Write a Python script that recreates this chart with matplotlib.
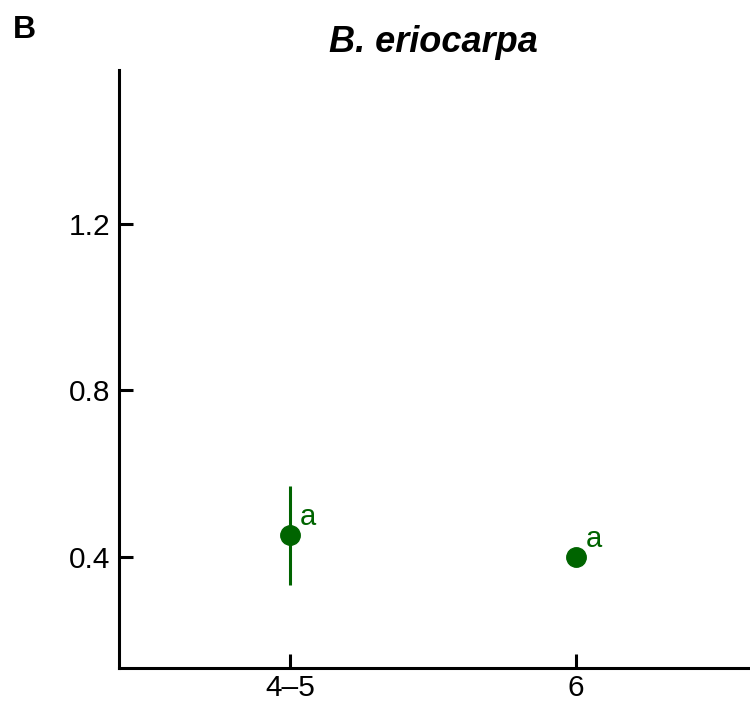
import matplotlib
matplotlib.use("Agg")
import matplotlib.pyplot as plt

plt.rcParams["font.family"] = ["Liberation Sans", "DejaVu Sans"]

# Data
groups = ["4\u20135", "6"]
means = [0.452, 0.400]
errors = [0.118, 0.0]
letters = ["a", "a"]
yticks = [0.4, 0.8, 1.2]
ytick_labels = ["0.4", "0.8", "1.2"]

green = "#006400"

fig = plt.figure(figsize=(7.5, 7.05), dpi=100)
ax = fig.add_axes([0.1587, 0.0525, 0.8383, 0.8482])

xpos = list(range(len(groups)))
ax.errorbar(xpos, means, yerr=errors, fmt="o", color=green, ecolor=green,
            elinewidth=2.2, markersize=14, capsize=0, zorder=3)

for x, y, lab in zip(xpos, means, letters):
    ax.annotate(lab, xy=(x, y), xytext=(6.5, 7.5), textcoords="offset points",
                color=green, fontsize=21, ha="left", va="baseline")

ax.set_xlim(-0.6, 1.6)
ax.set_ylim(0.134, 1.569)
ax.set_xticks(xpos)
ax.set_xticklabels(groups)
ax.set_yticks(yticks)
ax.set_yticklabels(ytick_labels)

for side in ["top", "right"]:
    ax.spines[side].set_visible(False)
for side in ["left", "bottom"]:
    ax.spines[side].set_linewidth(2.2)

ax.tick_params(axis="both", direction="in", length=10, width=2.2,
               labelsize=21.5, colors="black")
ax.tick_params(axis="y", pad=6.5)
ax.tick_params(axis="x", pad=4)

ax.set_title("B. eriocarpa", fontsize=26, fontweight="bold", style="italic", pad=13)
fig.text(0.017, 0.936, "B", fontsize=23, fontweight="bold", ha="left", va="bottom")

fig.savefig("out.png", dpi=100)
